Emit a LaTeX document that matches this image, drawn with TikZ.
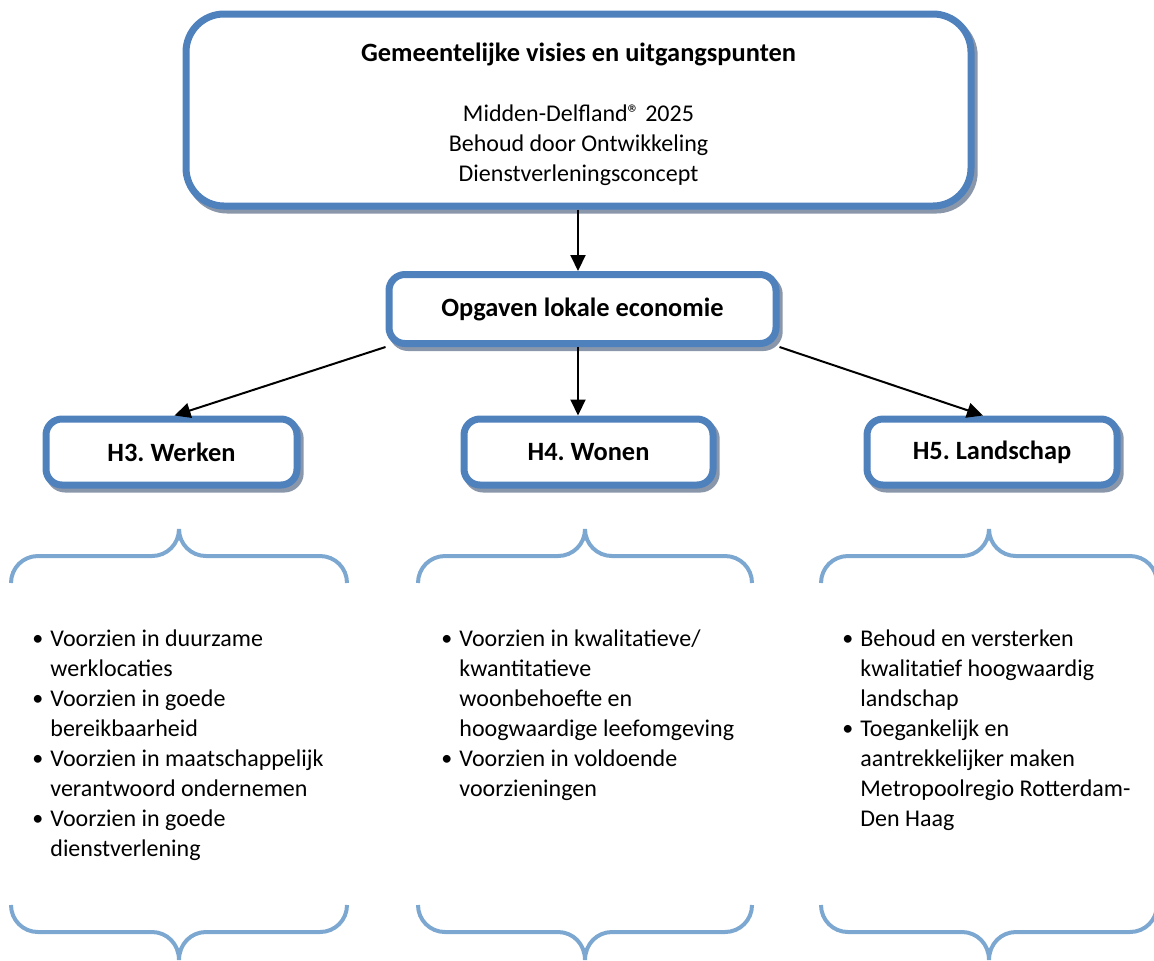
\documentclass[tikz,border=0pt]{standalone}
\usepackage{fontspec}
\setmainfont{Carlito}
\usetikzlibrary{arrows.meta,calc}
\definecolor{boxblue}{RGB}{79,129,189}
\definecolor{shadowgray}{RGB}{138,150,170}
\definecolor{braceblue}{RGB}{124,167,208}
\tikzset{
  boxshape/.style={draw=boxblue, line width=3.5pt, fill=white, align=center,
    inner sep=0pt, font=\fontsize{12}{15}\selectfont\frenchspacing,
    preaction={draw=shadowgray, line width=3.5pt, transform canvas={shift={(1.6pt,-2pt)}}}},
  bigbox/.style={boxshape, rounded corners=19pt, minimum width=392.5pt, minimum height=96pt},
  smallbox/.style={boxshape, rounded corners=8pt, minimum height=33pt, font=\fontsize{13.2}{15}\selectfont\bfseries\frenchspacing},
  conn/.style={draw=black, line width=1pt, -{Triangle[length=8pt,width=7.5pt]}},
  bracestyle/.style={draw=braceblue, line width=2pt},
  boxtext/.style={inner sep=0pt, align=center, font=\fontsize{12}{15}\selectfont},
  listtext/.style={inner sep=0pt, anchor=base west, font=\fontsize{12}{15}\selectfont}
}
\newcommand{\bul}{\makebox[9pt][l]{\raisebox{0.2pt}{\fontsize{11}{11}\selectfont\textbullet}}}
\newcommand{\ind}{\hspace{9pt}}
\begin{document}
\begin{tikzpicture}[x=0.5pt,y=-0.5pt]
\useasboundingbox (0,0) rectangle (1154,960);
% boxes
\node[bigbox] (top) at (578.5,110) {};
\node[boxtext] (toptext) at (578.5,114) {{\fontsize{13.2}{15}\selectfont\bfseries Gemeentelijke visies en uitgangspunten}\\[15pt]Midden-Delfland® 2025\\Behoud door Ontwikkeling\\Dienstverleningsconcept};
\node[smallbox, minimum width=193.5pt, minimum height=34.5pt] (eco) at (582.5,309) {Opgaven lokale economie};
\node[smallbox, minimum width=125.5pt] (h3) at (171.5,452) {H3. Werken};
\node[smallbox, minimum width=124.5pt] (h4) at (588.5,452) {H4. Wonen};
\node[smallbox, minimum width=125pt] (h5) at (992,452) {H5. Landschap};
\coordinate (mid) at (578,0);
% connectors
\draw[conn] (top.south -| mid) -- (eco.north -| mid);
\draw[conn] (eco.south west) -- ($(h3.north)+(3,0)$);
\draw[conn] (eco.south -| mid) -- (h4.north -| mid);
\draw[conn] (eco.south east) -- ($(h5.north)+(-9,0)$);
% braces
\foreach \L/\R in {11/347, 418/752, 821/1157}{
  \pgfmathsetmacro{\T}{(\L+\R)/2}
  \draw[bracestyle] (\L,583) .. controls (\L,568) and (\L+12,556) .. (\L+27,556) -- (\T-27,556)
     .. controls (\T-12,556) and (\T,544) .. (\T,529)
     .. controls (\T,544) and (\T+12,556) .. (\T+27,556) -- (\R-27,556)
     .. controls (\R-12,556) and (\R,568) .. (\R,583);
  \draw[bracestyle] (\L,905) .. controls (\L,920) and (\L+12,932) .. (\L+27,932) -- (\T-27,932)
     .. controls (\T-12,932) and (\T,944) .. (\T,960)
     .. controls (\T,944) and (\T+12,932) .. (\T+27,932) -- (\R-27,932)
     .. controls (\R-12,932) and (\R,920) .. (\R,905);
}
% lists
\node[listtext] (l3) at (32,646) {\begin{tabular}[t]{@{}l@{}}
\bul Voorzien in duurzame\\ \ind werklocaties\\
\bul Voorzien in goede\\ \ind bereikbaarheid\\
\bul Voorzien in maatschappelijk\\ \ind verantwoord ondernemen\\
\bul Voorzien in goede\\ \ind dienstverlening\end{tabular}};
\node[listtext] (l4) at (441,646) {\begin{tabular}[t]{@{}l@{}}
\bul Voorzien in kwalitatieve/\\ \ind kwantitatieve\\ \ind woonbehoefte en\\ \ind hoogwaardige leefomgeving\\
\bul Voorzien in voldoende\\ \ind voorzieningen\end{tabular}};
\node[listtext] (l5) at (842,646) {\begin{tabular}[t]{@{}l@{}}
\bul Behoud en versterken\\ \ind kwalitatief hoogwaardig\\ \ind landschap\\
\bul Toegankelijk en\\ \ind aantrekkelijker maken\\ \ind Metropoolregio Rotterdam-\\ \ind Den Haag\end{tabular}};
\end{tikzpicture}
\end{document}
